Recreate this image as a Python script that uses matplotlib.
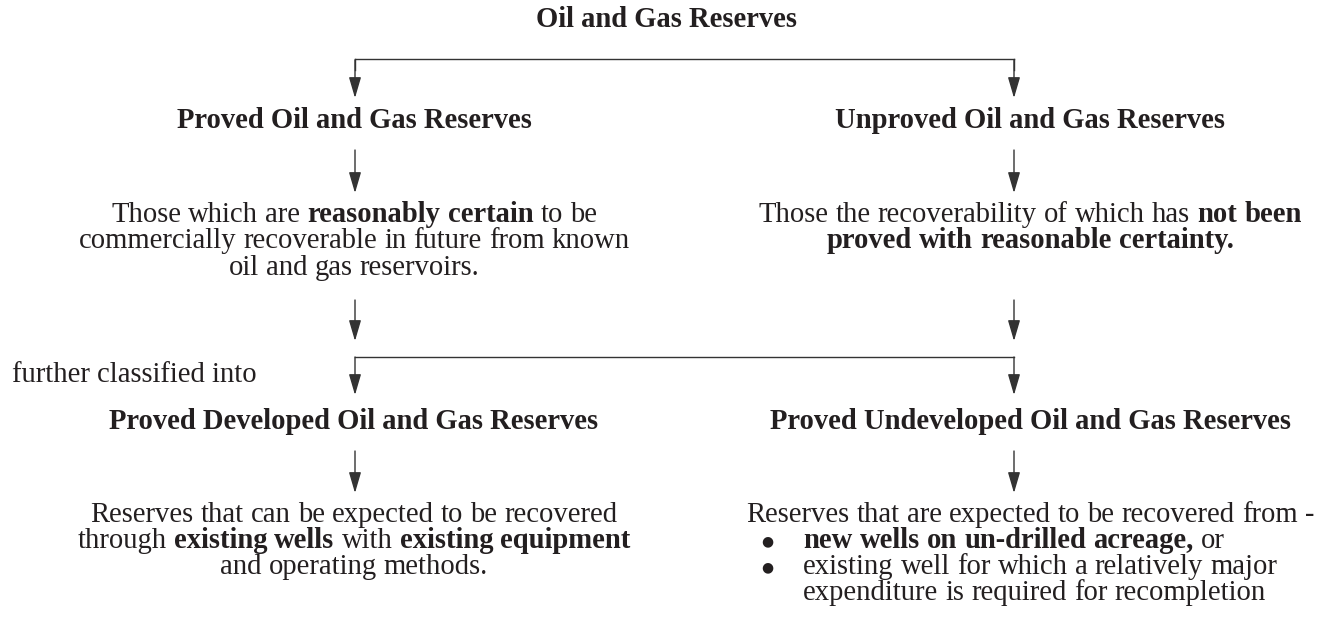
import matplotlib
matplotlib.use('Agg')
import matplotlib.pyplot as plt

# texts of the chart, (piece, bold) segments per line
title = 'Oil and Gas Reserves'
level1 = ['Proved Oil and Gas Reserves', 'Unproved Oil and Gas Reserves']
level1_notes = [
    [[('Those which are ', False), ('reasonably certain', True), (' to be', False)],
     [('commercially recoverable in future from known', False)],
     [('oil and gas reservoirs.', False)]],
    [[('Those the recoverability of which has ', False), ('not been', True)],
     [('proved with reasonable certainty.', True)]],
]
split_label = 'further classified into'
level2 = ['Proved Developed Oil and Gas Reserves', 'Proved Undeveloped Oil and Gas Reserves']
developed_note = [
    [('Reserves that can be expected to be recovered', False)],
    [('through ', False), ('existing wells', True), (' with ', False), ('existing equipment', True)],
    [('and operating methods.', False)],
]
undeveloped_intro = 'Reserves that are expected to be recovered from -'
undeveloped_bullets = [
    [[('new wells on un-drilled acreage,', True), (' or', False)]],
    [[('existing well for which a relatively major', False)],
     [('expenditure is required for recompletion', False)]],
]

W, H = 1321, 624
FONT = 'Liberation Serif'
SIZE = 20.6
INK = '#231f20'
LINE = '#333333'
LW = 1.0

fig = plt.figure(figsize=(W / 100, H / 100), dpi=100)
ax = fig.add_axes([0, 0, 1, 1])
ax.set_xlim(0, W)
ax.set_ylim(H, 0)
ax.axis('off')
renderer = fig.canvas.get_renderer()


def width_of(s, bold):
    t = ax.text(0, 0, s, fontsize=SIZE, family=FONT,
                fontweight='bold' if bold else 'normal')
    w = t.get_window_extent(renderer).width
    t.remove()
    return w


SPACE = width_of('x x', False) - width_of('xx', False)


def rich_line(x, y, segments, ha='center'):
    words = []
    for s, b in segments:
        for w in s.split():
            words.append((w, b, width_of(w, b)))
    total = sum(w[2] for w in words) + SPACE * (len(words) - 1)
    cx = x - total / 2 if ha == 'center' else x
    for w, b, wd in words:
        ax.text(cx, y, w, fontsize=SIZE, family=FONT, color=INK,
                fontweight='bold' if b else 'normal', va='baseline', ha='left')
        cx += wd + SPACE


def arrow(x, y0, y1):
    ax.annotate('', xy=(x, y1), xytext=(x, y0),
                arrowprops=dict(arrowstyle='-|>,head_length=0.75,head_width=0.22',
                                mutation_scale=17, lw=LW, color=LINE,
                                shrinkA=0, shrinkB=0))


xl, xr = 355, 1014          # arrow columns
tl, tr = 354, 1030          # text centres
cols = [xl, xr]
tcols = [tl, tr]

ax.text(666, 27, title, fontsize=SIZE, family=FONT, fontweight='bold',
        color=INK, ha='center', va='baseline')

# first split
ax.plot([xl, xr], [59, 59], color=LINE, lw=LW, solid_capstyle='projecting')
for x in cols:
    ax.plot([x, x], [59, 70], color=LINE, lw=LW)
    arrow(x, 60, 98)

for x, tx, name in zip(cols, tcols, level1):
    ax.text(tx, 128, name, fontsize=SIZE, family=FONT, fontweight='bold',
            color=INK, ha='center', va='baseline')
    arrow(x, 150, 193)

for x, tx, note in zip(cols, tcols, level1_notes):
    for i, line in enumerate(note):
        rich_line(tx, 222 + i * 26.5, line)
    arrow(x, 300, 341)

# second split
ax.plot([xl, xr], [357, 357], color=LINE, lw=LW, solid_capstyle='projecting')
for x in cols:
    arrow(x, 357, 395)
ax.text(12, 382, split_label, fontsize=SIZE, family=FONT, color=INK,
        ha='left', va='baseline')

for x, tx, name in zip(cols, tcols, level2):
    ax.text(tx, 429, name, fontsize=SIZE, family=FONT, fontweight='bold',
            color=INK, ha='center', va='baseline')
    arrow(x, 451, 493)

for i, line in enumerate(developed_note):
    rich_line(tl, 522 + i * 26, line)

rich_line(tr, 522, [(undeveloped_intro, False)])
row = 1
for bullet in undeveloped_bullets:
    ax.text(767, 522 + row * 26 - 7, '\u25cf', fontsize=10, family='DejaVu Sans',
            color=INK, ha='center', va='center')
    for line in bullet:
        rich_line(803, 522 + row * 26, line, ha='left')
        row += 1

fig.savefig('out.png', dpi=100)
